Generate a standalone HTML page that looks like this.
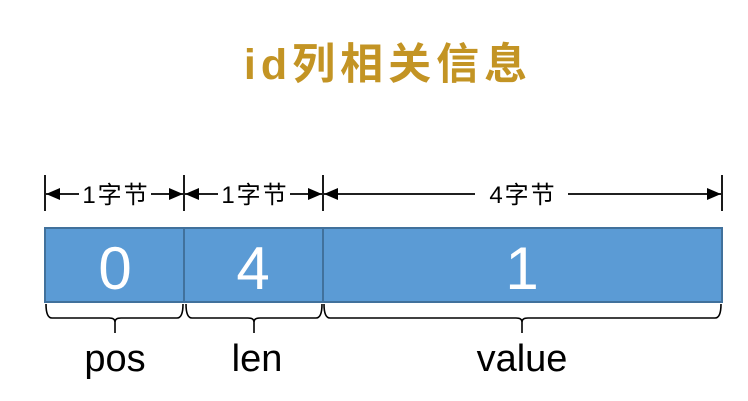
<!DOCTYPE html>
<html><head><meta charset="utf-8"><style>
html,body{margin:0;padding:0;background:#fff;}
svg{display:block;}
</style></head><body>
<svg width="748" height="401" viewBox="0 0 748 401" xmlns="http://www.w3.org/2000/svg">
<defs>
<marker id="a" markerWidth="14" markerHeight="12" refX="14" refY="6" orient="auto" markerUnits="userSpaceOnUse"><path d="M0,0 L14,6 L0,12 z" fill="#000"/></marker>
</defs>
<text x="388" y="79" text-anchor="middle" font-family="'Liberation Sans','Noto Sans CJK SC',sans-serif" font-weight="bold" font-size="43" letter-spacing="5" fill="#C39424">id列相关信息</text>
<g stroke="#000" stroke-width="1.8">
<line x1="45" y1="175" x2="45" y2="211"/>
<line x1="184" y1="175" x2="184" y2="211"/>
<line x1="323" y1="175" x2="323" y2="211"/>
<line x1="722" y1="175" x2="722" y2="211"/>
<line x1="79" y1="194" x2="46" y2="194" marker-end="url(#a)"/>
<line x1="151" y1="194" x2="183" y2="194" marker-end="url(#a)"/>
<line x1="218" y1="194" x2="185" y2="194" marker-end="url(#a)"/>
<line x1="290" y1="194" x2="322" y2="194" marker-end="url(#a)"/>
<line x1="475" y1="194" x2="324" y2="194" marker-end="url(#a)"/>
<line x1="568" y1="194" x2="721" y2="194" marker-end="url(#a)"/>
</g>
<g font-family="'Liberation Sans','Noto Sans CJK SC',sans-serif" font-size="24" fill="#000" text-anchor="middle" letter-spacing="2">
<text x="116" y="203">1字节</text>
<text x="255" y="203">1字节</text>
<text x="523" y="203">4字节</text>
</g>
<rect x="45" y="228" width="677" height="74" fill="#5B9BD5" stroke="#41719C" stroke-width="2"/>
<line x1="184" y1="228" x2="184" y2="302" stroke="#41719C" stroke-width="2"/>
<line x1="323" y1="228" x2="323" y2="302" stroke="#41719C" stroke-width="2"/>
<g font-family="'Liberation Sans',sans-serif" font-size="60" fill="#fff" text-anchor="middle">
<text x="115" y="289">0</text>
<text x="253" y="289">4</text>
<text x="522" y="289">1</text>
</g>
<g fill="none" stroke="#000" stroke-width="1.6">
<path d="M46,304 Q46,318 52,318 L109,318 Q115,318 115,322 L115,333 M115,322 Q115,318 121,318 L177,318 Q183,318 183,304"/>
<path d="M186,304 Q186,318 192,318 L248,318 Q254,318 254,322 L254,333 M254,322 Q254,318 260,318 L316,318 Q322,318 322,304"/>
<path d="M324,304 Q324,318 330,318 L516,318 Q522,318 522,322 L522,333 M522,322 Q522,318 528,318 L715,318 Q721,318 721,304"/>
</g>
<g font-family="'Liberation Sans',sans-serif" font-size="38" fill="#000" text-anchor="middle">
<text x="115" y="371">pos</text>
<text x="257" y="371">len</text>
<text x="522" y="371">value</text>
</g>
</svg>
</body></html>
